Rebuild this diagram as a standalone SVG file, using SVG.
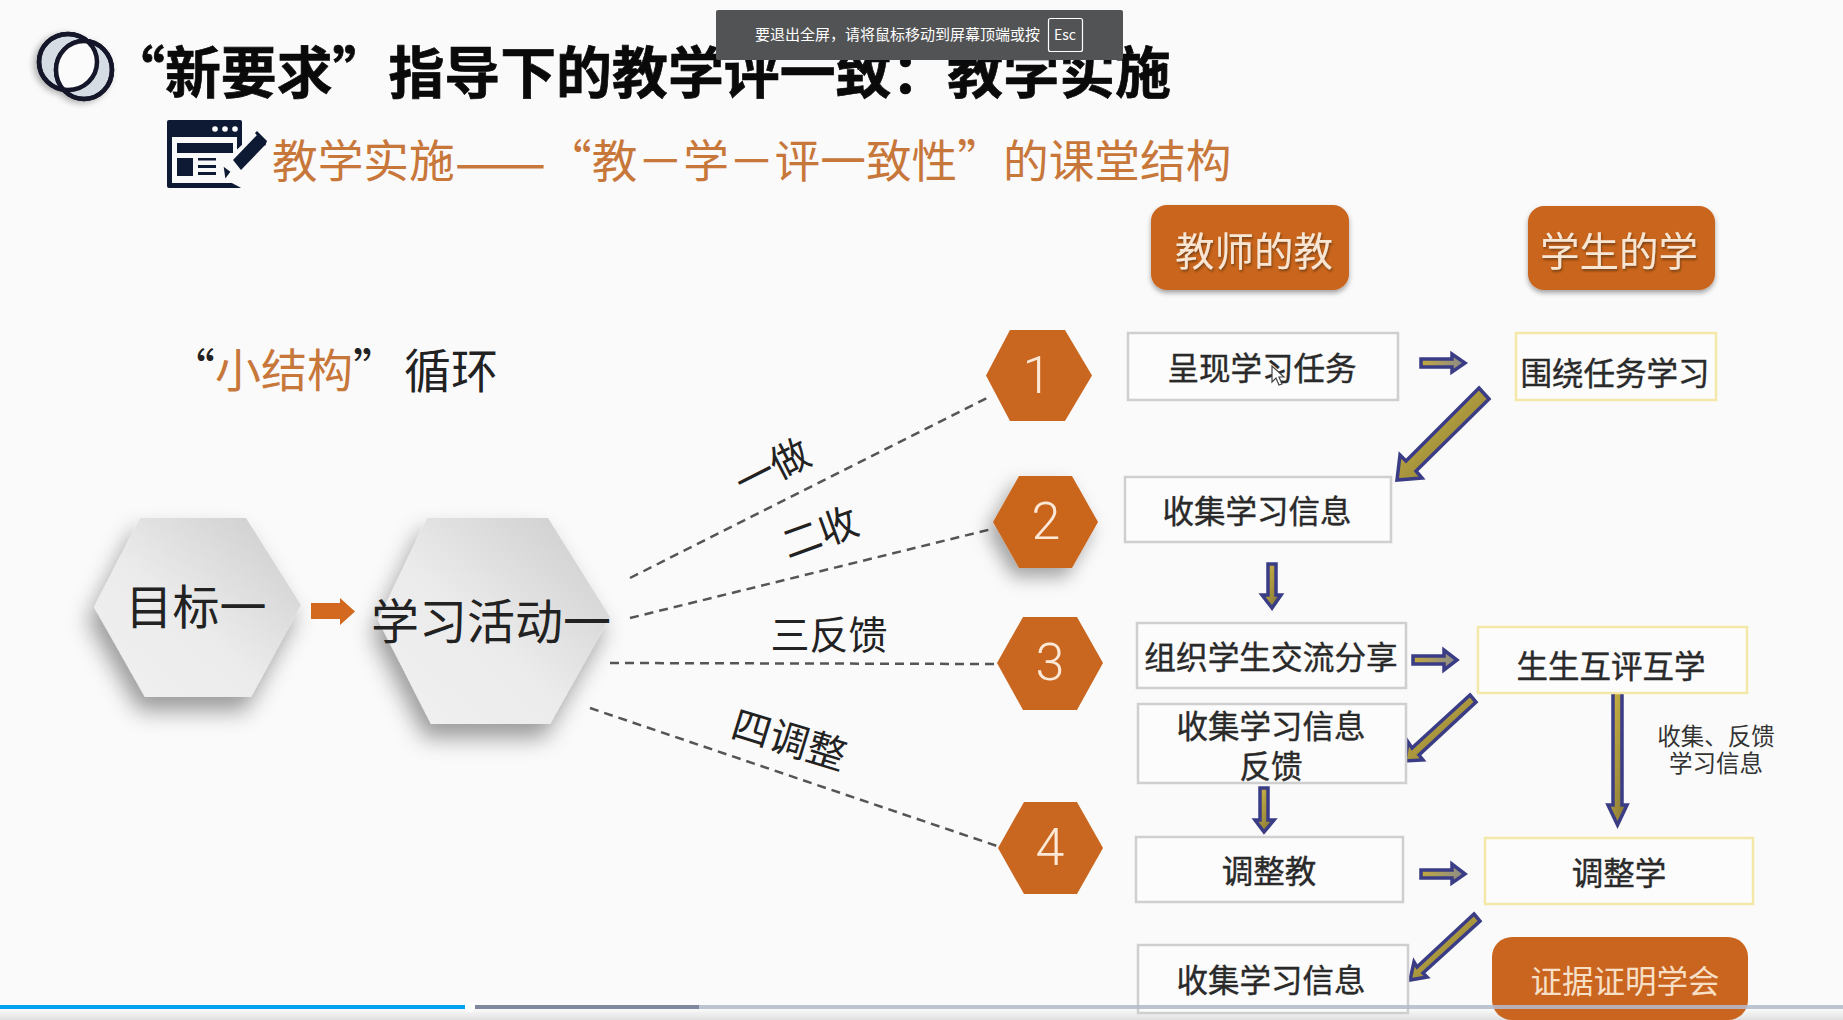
<svg xmlns="http://www.w3.org/2000/svg" width="1843" height="1020" viewBox="0 0 1843 1020">
<defs>
<style>
text{font-family:"Noto Sans CJK SC","Liberation Sans",sans-serif;dominant-baseline:central;fill:#222}
.c{text-anchor:middle}
.t{font-size:31.500px;fill:#2a2a2a;stroke:#2a2a2a;stroke-width:.4}
.box{fill:#fcfcfc;stroke:#cfcfcf;stroke-width:2.5}
.ybox{fill:#fcfcfc;stroke:#f3e8a8;stroke-width:2.5}
.dash{stroke:#555;stroke-width:2.5;stroke-dasharray:9 6;fill:none}
.btn{fill:#c9651f;filter:url(#btnShadow)}
.btxt{font-size:39.500px;fill:#f7e6d4;filter:url(#txtShadow)}
.hx{fill:#c9661f}
.num{font-family:Roboto,"Liberation Sans",sans-serif;font-weight:300;font-size:52px;fill:#fbe8d6}
.ar{fill:url(#gold);stroke:#3a3d85;stroke-width:3.500;stroke-linejoin:miter}
.arh{fill:url(#goldH);stroke:#3a3d85;stroke-width:3.500}
.orange{fill:#c8773a}
.lbl{font-size:39px;fill:#222}
</style>
<linearGradient id="gold" x1="0" y1="0" x2="1" y2="1"><stop offset="0" stop-color="#d6bd45"/><stop offset="1" stop-color="#7f7035"/></linearGradient>
<linearGradient id="goldH" x1="0" y1="0" x2="1" y2="0"><stop offset="0" stop-color="#c2a83e"/><stop offset="1" stop-color="#8b8b8b"/></linearGradient>
<linearGradient id="grey" x1="1" y1="0" x2="0" y2="1"><stop offset="0" stop-color="#cbcbcb"/><stop offset=".55" stop-color="#ebebeb"/><stop offset="1" stop-color="#f1f1f1"/></linearGradient>
<linearGradient id="foot" x1="0" y1="0" x2="0" y2="1"><stop offset="0" stop-color="#fafafa"/><stop offset="1" stop-color="#e0e0e0"/></linearGradient>
<filter id="hexShadow" x="-30%" y="-30%" width="160%" height="170%"><feDropShadow dx="-6" dy="14" stdDeviation="11" flood-color="#000" flood-opacity=".38"/></filter>
<filter id="numShadow" x="-40%" y="-40%" width="180%" height="190%"><feDropShadow dx="-6" dy="9" stdDeviation="9" flood-color="#000" flood-opacity=".35"/></filter>
<filter id="btnShadow" x="-10%" y="-10%" width="120%" height="130%"><feDropShadow dx="0" dy="3" stdDeviation="2.500" flood-color="#000" flood-opacity=".35"/></filter>
<filter id="txtShadow" x="-10%" y="-20%" width="120%" height="150%"><feDropShadow dx="1" dy="2" stdDeviation="1" flood-color="#4a2a10" flood-opacity=".6"/></filter>
<filter id="logoShadow" x="-20%" y="-20%" width="140%" height="140%"><feDropShadow dx="-3" dy="2" stdDeviation="3" flood-color="#000" flood-opacity=".3"/></filter>
<clipPath id="ringA"><ellipse cx="68" cy="62" rx="29" ry="28"/></clipPath>
</defs>
<rect width="1843" height="1020" fill="#fafafa"/>
<rect id="foot-shade" x="0" y="1009" width="1843" height="11" fill="url(#foot)"/>

<g id="logo" stroke="#14182a" stroke-width="4.500" filter="url(#logoShadow)">
<ellipse cx="68" cy="62" rx="29" ry="28" fill="#d5dce4"/>
<ellipse cx="84" cy="70" rx="28" ry="29" fill="#d5dce4"/>
<ellipse cx="84" cy="70" rx="28" ry="29" fill="#fbfbfb" stroke="none" clip-path="url(#ringA)"/>
<ellipse cx="68" cy="62" rx="29" ry="28" fill="none"/>
<ellipse cx="84" cy="70" rx="28" ry="29" fill="none"/>
</g>
<text id="title" x="109" y="68" font-size="55.900" font-weight="700" style="fill:#0a0a0a;stroke:#0a0a0a;stroke-width:.7">“新要求”指导下的教学评一致：教学实施</text>

<g id="doc-icon">
<rect x="167" y="120" width="75" height="68" rx="2" fill="#0e1a33"/>
<rect x="172" y="137" width="65" height="46" fill="#fafafa"/>
<rect x="177" y="143" width="56" height="10" fill="#0e1a33"/>
<rect x="177" y="158" width="16" height="18" fill="#0e1a33"/>
<rect x="198" y="158" width="18" height="2.500" fill="#0e1a33"/>
<rect x="198" y="165" width="18" height="3" fill="#0e1a33"/>
<rect x="198" y="172" width="18" height="3" fill="#0e1a33"/>
<path d="M228 158L245 142L262 150L245 190L230 182Z" fill="#fafafa"/>
<circle cx="215" cy="129" r="2.800" fill="#fff"/><circle cx="225" cy="129" r="2.800" fill="#fff"/><circle cx="235" cy="129" r="2.800" fill="#fff"/>
<path d="M233 160L257 135L266 144L241 170Z" fill="#0e1a33"/>
<path d="M255 133L257 131L267 141L265 146Z" fill="#0e1a33"/>
<path d="M225 169L229 172L226 176Z" fill="#0e1a33" stroke="#0e1a33" stroke-width="2"/>
</g>
<text id="subtitle" x="272" y="158" font-size="45.700" class="orange">教学实施<tspan font-size="54.500">——</tspan>“教－学－评一致性”的课堂结构</text>
<text id="loop" x="169" y="367" font-size="46">“<tspan class="orange">小结构</tspan>”<tspan dx="5" font-size="47">循环</tspan></text>

<g id="connectors">
<line class="dash" x1="630" y1="578" x2="987" y2="398"/>
<line class="dash" x1="630" y1="618" x2="992" y2="529"/>
<line class="dash" x1="610" y1="663" x2="997" y2="664"/>
<line class="dash" x1="590" y1="708" x2="997" y2="846"/>
<path d="M311 603H340V598L355 611.500L340 625V619H311Z" fill="#d2691e"/>
<path class="arh" d="M1421 359H1452V354L1465 363L1452 372V367H1421Z"/>
<path class="ar" d="M1479 388L1489 399L1416 471L1422 478L1397 480L1400 455L1406 461Z"/>
<path class="ar" d="M1268 564H1276V595H1281L1272 608L1262 595H1268Z"/>
<path class="arh" d="M1413 656H1444V650L1457 660L1444 670V664H1413Z"/>
<path class="ar" d="M1470 695L1476 702L1419 755L1423 760L1405 761L1408 742L1412 748Z"/>
<path class="ar" d="M1613 692H1622V805H1627L1617.500 825L1608 805H1613Z"/>
<path class="ar" d="M1260 788H1268V820H1274L1264 832L1255 820H1260Z"/>
<path class="arh" d="M1421 870H1452V864L1465 874L1452 883V878H1421Z"/>
<path class="ar" d="M1474 914L1480 921L1423 973L1427 977L1410 980L1414 962L1417 967Z"/>
</g>

<g id="n-goal">
<polygon points="94,607 140,518 246,518 301,605 251,697 145,697" fill="url(#grey)" filter="url(#hexShadow)"/>
<text x="196" y="603" font-size="47" class="c">目标一</text>
</g>
<g id="n-activity">
<polygon points="378,620 427,518 548,518 610,617 550,724 431,724" fill="url(#grey)" filter="url(#hexShadow)"/>
<text x="491" y="618" font-size="48" class="c">学习活动一</text>
</g>

<g id="labels">
<text class="lbl c" transform="translate(771 465) rotate(-27)">一做</text>
<text class="lbl c" transform="translate(819 530) rotate(-20)">二收</text>
<text class="lbl c" x="829" y="632">三反馈</text>
<text class="lbl c" transform="translate(790 737) rotate(17)">四调整</text>
</g>

<g id="n1"><polygon class="hx" points="986,375.500 1010,330 1065,330 1092,375.500 1065,421 1010,421"/><text class="num c" x="1037" y="375">1</text></g>
<g id="n2"><polygon class="hx" points="993,522 1019,476 1072,476 1098,522 1072,568 1019,568" filter="url(#numShadow)"/><text class="num c" x="1046" y="521">2</text></g>
<g id="n3"><polygon class="hx" points="997,663 1023,617 1077,617 1103,663 1077,710 1023,710"/><text class="num c" x="1050" y="662">3</text></g>
<g id="n4"><polygon class="hx" points="998,848 1024,802 1077,802 1103,848 1077,894 1024,894"/><text class="num c" x="1050" y="847">4</text></g>

<g id="h-teacher"><rect class="btn" x="1151" y="205" width="198" height="85" rx="16"/><text class="btxt c" x="1254" y="248">教师的教</text></g>
<g id="h-student"><rect class="btn" x="1528" y="206" width="187" height="84" rx="16"/><text class="btxt c" x="1619" y="248">学生的学</text></g>

<g id="b1"><rect class="box" x="1128" y="333" width="270" height="67"/><text class="t c" x="1262" y="366">呈现学习任务</text></g>
<g id="b2"><rect class="ybox" x="1516" y="333" width="200" height="67"/><text class="t c" x="1615" y="371">围绕任务学习</text></g>
<g id="b3"><rect class="box" x="1125" y="477" width="266" height="65"/><text class="t c" x="1257" y="509">收集学习信息</text></g>
<g id="b4"><rect class="box" x="1137" y="623" width="269" height="65"/><text class="t c" x="1271" y="655" style="font-size:31.700px">组织学生交流分享</text></g>
<g id="b5"><rect class="ybox" x="1478" y="627" width="269" height="66"/><text class="t c" x="1611" y="664">生生互评互学</text></g>
<g id="b6"><rect class="box" x="1138" y="704" width="268" height="79"/><text class="t c"><tspan x="1271" y="724">收集学习信息</tspan><tspan x="1271" y="764">反馈</tspan></text></g>
<g id="b7"><rect class="box" x="1136" y="837" width="267" height="65"/><text class="t c" x="1269" y="869">调整教</text></g>
<g id="b8"><rect class="ybox" x="1485" y="838" width="268" height="66"/><text class="t c" x="1619" y="871">调整学</text></g>
<g id="b9"><rect class="box" x="1138" y="945" width="270" height="68"/><text class="t c" x="1271" y="978">收集学习信息</text></g>
<g id="b10"><rect x="1492" y="937" width="256" height="83" rx="20" fill="#c9651f"/><text class="c" x="1625" y="979" font-size="31.500" style="fill:#f7dfc6">证据证明学会</text></g>
<g id="note"><text class="c" font-size="23.500" style="fill:#333"><tspan x="1716" y="735">收集、反馈</tspan><tspan x="1716" y="762">学习信息</tspan></text></g>
<path id="cursor" d="M1272 366L1272 382L1276 378L1279 385L1282 384L1279 377L1284 377Z" fill="#fff" stroke="#444" stroke-width="1.200"/>

<g id="player">
<rect x="699" y="1005" width="1144" height="4" fill="#b5bbcc" fill-opacity=".88"/>
<rect x="475" y="1005" width="224" height="4" fill="#8088a0"/>
<rect x="0" y="1005" width="465" height="4" fill="#00a1f1"/>
<ellipse cx="470" cy="1007" rx="5" ry="5" fill="#fff"/>
</g>
<g id="fullscreen-toast">
<rect x="716" y="10" width="407" height="50" rx="2" fill="#525355"/>
<text x="755" y="33.500" font-size="15" style="fill:#fff">要退出全屏，请将鼠标移动到屏幕顶端或按</text>
<rect x="1048.500" y="18.500" width="34" height="33" rx="2" fill="none" stroke="#fff" stroke-width="1.200"/>
<text class="c" x="1065" y="34" font-size="14" style="fill:#fff">Esc</text>
</g>
</svg>
